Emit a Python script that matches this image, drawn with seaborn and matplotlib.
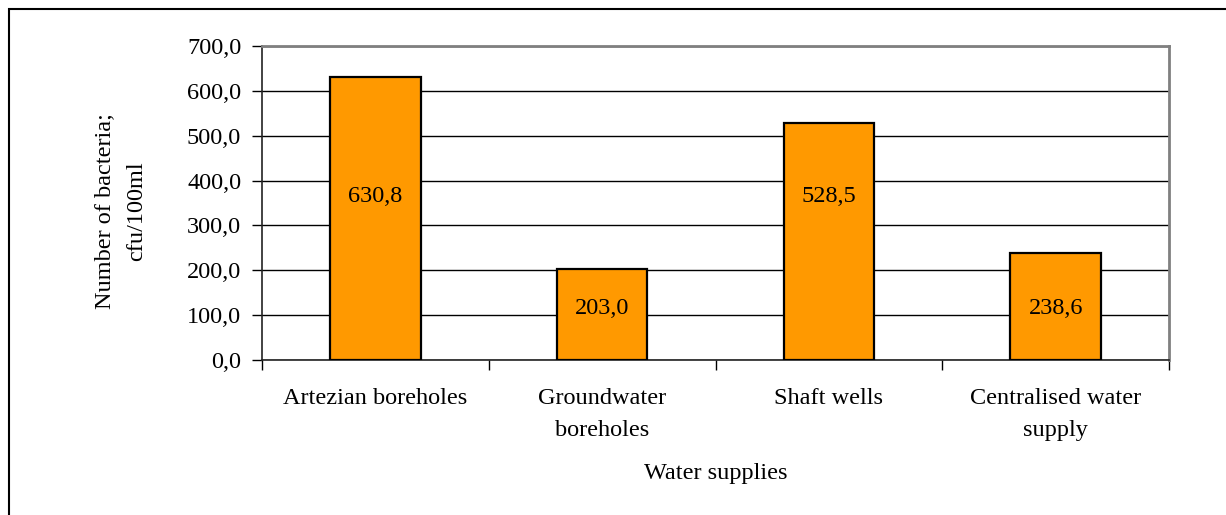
import matplotlib
matplotlib.use("Agg")
import matplotlib.pyplot as plt
from matplotlib.patches import Rectangle
from matplotlib.ticker import FixedLocator, FuncFormatter, NullFormatter
import seaborn as sns
import pandas as pd

# Bacterial counts by water source
categories = ["Artezian boreholes", "Groundwater\nboreholes", "Shaft wells",
              "Centralised water\nsupply"]
bacteria_counts = [630.8, 203.0, 528.5, 238.6]
y_ticks = [0, 100, 200, 300, 400, 500, 600, 700]

sns.set_theme(style="white")
plt.rcParams["font.family"] = ["Liberation Serif", "DejaVu Serif"]

FS = 17.5

df = pd.DataFrame({"source": categories, "count": bacteria_counts})

fig = plt.figure(figsize=(12.26, 5.15), dpi=100)
ax = fig.add_axes([262 / 1226, 1 - 360 / 515, (1169 - 262) / 1226, (360 - 46) / 515])

sns.barplot(data=df, x="source", y="count", color="#FF9900", saturation=1,
            edgecolor="black", linewidth=1.6, width=0.4, ax=ax, zorder=3)

ax.set_ylim(0, 700)
ax.set_xlim(-0.5, len(categories) - 0.5)
ax.yaxis.set_major_locator(FixedLocator(y_ticks))
ax.yaxis.set_major_formatter(FuncFormatter(lambda v, _: f"{v:.1f}".replace(".", ",")))

# category boundaries carry the tick marks, centres carry the labels
ax.xaxis.set_major_locator(FixedLocator([i - 0.5 for i in range(len(categories) + 1)]))
ax.xaxis.set_major_formatter(NullFormatter())
ax.xaxis.set_minor_locator(FixedLocator(list(range(len(categories)))))
ax.set_xticklabels(categories, minor=True, linespacing=1.65)
ax.tick_params(axis="x", which="major", direction="out", length=7, width=1, color="black",
               bottom=True)
ax.tick_params(axis="x", which="minor", length=0, pad=20.5, labelsize=FS, colors="black")
ax.tick_params(axis="y", direction="out", length=7, width=1, color="black", left=True,
               labelsize=FS, labelcolor="black", pad=8)

ax.yaxis.grid(True, color="black", linewidth=1.0, zorder=0)
ax.xaxis.grid(False)
ax.set_axisbelow(True)

for side in ("top", "right"):
    ax.spines[side].set_color("#808080")
    ax.spines[side].set_linewidth(2)
for side in ("left", "bottom"):
    ax.spines[side].set_color("#222222")
    ax.spines[side].set_linewidth(1.2)

ax.set_xlabel("Water supplies", fontsize=FS, color="black")
ax.xaxis.label.set_va("center")
ax.xaxis.set_label_coords(0.5, (360 - 473) / 314)
ax.set_ylabel("Number of bacteria;\ncfu/100ml", fontsize=FS, color="black",
              linespacing=1.7)
ax.yaxis.label.set_va("center")
ax.yaxis.label.set_ha("center")
ax.yaxis.set_label_coords((121 - 262) / 907, (360 - 211) / 314)

# value labels inside bars
label_heights = [365, 114, 365, 114]
for i, (val, h) in enumerate(zip(bacteria_counts, label_heights)):
    ax.text(i, h, f"{val:.1f}".replace(".", ","), ha="center", va="center",
            fontsize=FS, color="black", zorder=4)

# outer chart frame
fig.patches.append(Rectangle((9 / 1226, -0.2), 1.2, 1.2 - 9 / 515,
                             transform=fig.transFigure, fill=False,
                             edgecolor="black", linewidth=1.5))

fig.savefig("out.png", dpi=100)
